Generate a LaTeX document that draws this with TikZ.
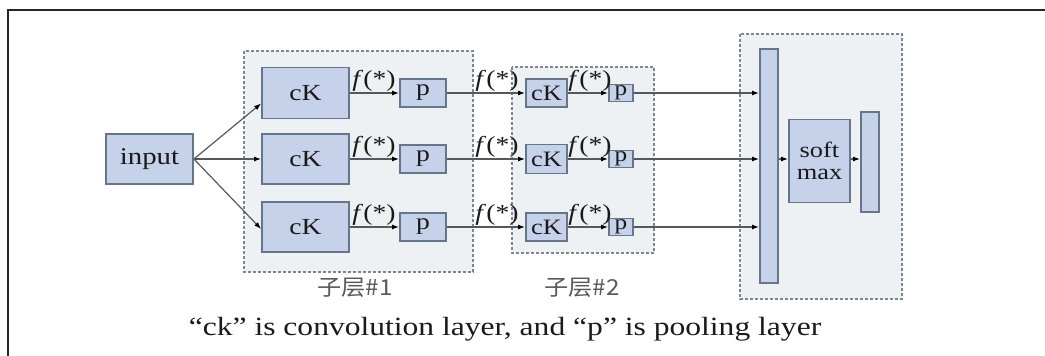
\documentclass[tikz,border=0pt]{standalone}
\usepackage{fontspec}
\setmainfont{Liberation Serif}[FakeStretch=1.2]
\newfontfamily\cjk{Noto Sans CJK SC}[FakeStretch=1.1]
\usetikzlibrary{arrows.meta}
\definecolor{boxfill}{HTML}{C6D2EA}
\definecolor{boxline}{HTML}{66768A}
\definecolor{grpfill}{HTML}{EDF1F4}
\definecolor{grpline}{HTML}{7E858E}
\definecolor{wire}{HTML}{55595F}
\definecolor{ink}{HTML}{1A1A1A}
\tikzset{
  blk/.style={draw=boxline, line width=1.8pt, fill=boxfill, inner sep=0pt, text=ink},
  grp/.style={draw=grpline, line width=1.4pt, dash pattern=on 3pt off 2pt, fill=grpfill},
  conn/.style={draw=wire, line width=1.2pt, -{Latex[length=7pt,width=5pt,fill=black,color=black]}},
  lbl/.style={inner sep=0pt, text=ink, font=\fontsize{23}{25}\selectfont},
  grplbl/.style={inner sep=0pt, text=black!65, font=\cjk\fontsize{22}{24}\selectfont},
}
\begin{document}
\begin{tikzpicture}[x=1pt,y=-1pt]
\useasboundingbox (0,0) rectangle (1045,356);
\fill[white] (0,0) rectangle (1045,356);
\draw[line width=2pt, black!85] (1045,10) -- (8,10) -- (8,356);

% groups
\path[grp] (244,51) rectangle (473,272);
\path[grp] (512,67) rectangle (654,253);
\path[grp] (740,34) rectangle (902,299);

% blocks
\node[blk, minimum width=87pt, minimum height=50pt, font=\fontsize{24}{26}\selectfont] (in) at (149.5,159) {input};

\node[blk, minimum width=87pt, minimum height=51pt, font=\fontsize{23}{25}\selectfont] (ck1a) at (305.5,93) {cK};
\node[blk, minimum width=87pt, minimum height=50pt, font=\fontsize{23}{25}\selectfont] (ck1b) at (305.5,159) {cK};
\node[blk, minimum width=87pt, minimum height=50pt, font=\fontsize{23}{25}\selectfont] (ck1c) at (305.5,227) {cK};

\node[blk, minimum width=46pt, minimum height=28pt, font=\fontsize{23}{25}\selectfont] (p1a) at (423,93) {p};
\node[blk, minimum width=46pt, minimum height=28pt, font=\fontsize{23}{25}\selectfont] (p1b) at (423,159) {p};
\node[blk, minimum width=46pt, minimum height=28pt, font=\fontsize{23}{25}\selectfont] (p1c) at (423,227) {p};

\node[blk, minimum width=41pt, minimum height=28pt, font=\fontsize{22}{24}\selectfont] (ck2a) at (546.5,93) {cK};
\node[blk, minimum width=41pt, minimum height=29pt, font=\fontsize{22}{24}\selectfont] (ck2b) at (546.5,159) {cK};
\node[blk, minimum width=41pt, minimum height=28pt, font=\fontsize{22}{24}\selectfont] (ck2c) at (546.5,227) {cK};

\node[blk, minimum width=24pt, minimum height=17pt, font=\fontsize{21}{23}\selectfont] (p2a) at (621,93) {p};
\node[blk, minimum width=24pt, minimum height=17pt, font=\fontsize{21}{23}\selectfont] (p2b) at (621,159) {p};
\node[blk, minimum width=24pt, minimum height=17pt, font=\fontsize{21}{23}\selectfont] (p2c) at (621,227) {p};

\node[blk, minimum width=18pt, minimum height=234pt] (bar) at (769,166) {};
\node[blk, minimum width=61pt, minimum height=83pt, align=center, font=\fontsize{22}{24}\selectfont] (sm) at (819.5,161) {soft\\[-2pt]max};
\node[blk, minimum width=18pt, minimum height=100pt] (bar2) at (870,162) {};

% connectors
\draw[conn] (in.east) -- ([yshift=-10.5pt]ck1a.west);
\draw[conn] (in.east) -- (ck1b.west);
\draw[conn] (in.east) -- ([yshift=-2pt]ck1c.west);

\foreach \r in {a,b,c}{
  \draw[conn] (ck1\r) -- (p1\r);
  \draw[conn] (p1\r) -- (ck2\r);
  \draw[conn] (ck2\r) -- (p2\r);
  \draw[conn] (p2\r) -- (p2\r -| bar.west);
}
\draw[conn] (bar.east |- 0,159) -- (sm.west |- 0,159);
\draw[conn] (sm.east |- 0,159) -- (bar2.west |- 0,159);

% f(*) labels
\foreach \r/\y in {a/81,b/147,c/215}{
  \node[lbl] (fa\r) at (374,\y) {\textit{f}(*)};
  \node[lbl] (fb\r) at (497,\y) {\textit{f}(*)};
  \node[lbl] (fc\r) at (590,\y) {\textit{f}(*)};
}

% group labels
\node[grplbl] (g1) at (355,288) {子层\#1};
\node[grplbl] (g2) at (582,288) {子层\#2};

% caption
\node[anchor=base, inner sep=0pt, text=ink, font=\fontsize{26.3}{28}\selectfont] (cap) at (505,335) {“ck” is convolution layer, and “p” is pooling layer};
\end{tikzpicture}
\end{document}
